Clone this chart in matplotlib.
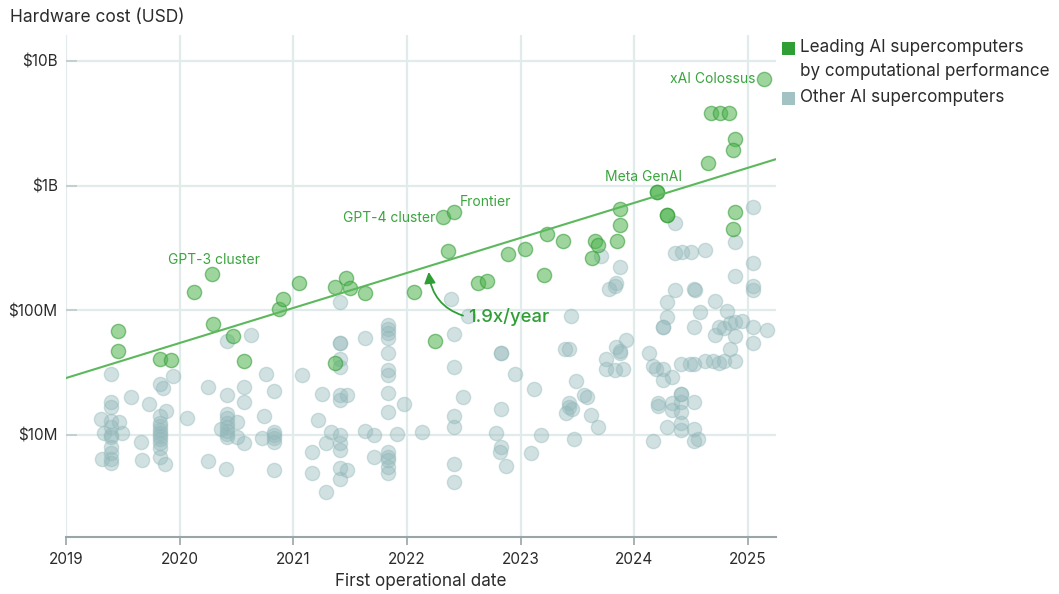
import matplotlib
matplotlib.use("Agg")
import matplotlib.pyplot as plt
from matplotlib.patches import Rectangle
import numpy as np

plt.rcParams['font.family'] = ['Inter', 'DejaVu Sans']

# leading AI supercomputers (first operational date, hardware cost in USD millions)
lead_year = [2019.46, 2019.46, 2019.83, 2019.92, 2020.13, 2020.28, 2020.29, 2020.47, 2020.57, 2020.87,
             2020.91, 2021.05, 2021.37, 2021.46, 2021.50, 2021.63, 2021.37, 2022.06, 2022.25, 2022.32,
             2022.41, 2022.36, 2022.62, 2022.70, 2022.89, 2023.04, 2023.23, 2023.20, 2023.37, 2023.65,
             2023.68, 2023.63, 2023.85, 2023.87, 2023.87, 2024.20, 2024.20, 2024.29, 2024.29, 2024.65,
             2024.67, 2024.75, 2024.83, 2024.88, 2024.87, 2024.88, 2024.87, 2025.14]
lead_cost = [68, 47, 41, 40, 140, 196, 78, 62, 39, 102,
             123, 166, 154, 182, 151, 138, 38, 140, 57, 560,
             614, 299, 166, 172, 283, 310, 409, 192, 360, 360,
             334, 262, 360, 483, 649, 890, 890, 581, 581, 1517,
             3820, 3820, 3820, 2370, 1930, 614, 449, 7160]

# other AI supercomputers
other_year = [2019.31, 2019.32, 2019.33, 2019.40, 2019.40, 2019.40, 2019.40, 2019.40, 2019.40, 2019.40,
              2019.40, 2019.40, 2019.40, 2019.40, 2019.47, 2019.49, 2019.57, 2019.66, 2019.67, 2019.73,
              2019.83, 2019.85, 2019.94, 2019.88, 2019.83, 2019.83, 2019.83, 2019.83, 2019.83, 2019.83,
              2019.83, 2019.83, 2019.83, 2019.83, 2019.87, 2020.06, 2020.25, 2020.25, 2020.42, 2020.42,
              2020.42, 2020.42, 2020.42, 2020.42, 2020.42, 2020.42, 2020.42, 2020.36, 2020.50, 2020.50,
              2020.57, 2020.57, 2020.57, 2020.41, 2020.63, 2020.72, 2020.74, 2020.76, 2020.83, 2020.83,
              2020.83, 2020.83, 2020.83, 2020.83, 2021.08, 2021.16, 2021.16, 2021.22, 2021.25, 2021.29,
              2021.29, 2021.33, 2021.41, 2021.41, 2021.41, 2021.41, 2021.41, 2021.41, 2021.41, 2021.47,
              2021.41, 2021.41, 2021.41, 2021.41, 2021.47, 2021.41, 2021.63, 2021.63, 2021.71, 2021.71,
              2021.83, 2021.83, 2021.83, 2021.83, 2021.83, 2021.83, 2021.83, 2021.83, 2021.83, 2021.83,
              2021.83, 2021.83, 2021.83, 2021.83, 2021.91, 2021.97, 2022.13, 2022.39, 2022.41, 2022.41,
              2022.49, 2022.41, 2022.41, 2022.41, 2022.41, 2022.54, 2022.83, 2022.83, 2022.95, 2022.83,
              2022.78, 2022.83, 2022.82, 2022.87, 2023.12, 2023.18, 2023.09, 2023.44, 2023.39, 2023.42,
              2023.49, 2023.56, 2023.58, 2023.42, 2023.42, 2023.45, 2023.40, 2023.62, 2023.68, 2023.47,
              2023.71, 2023.87, 2023.78, 2023.83, 2023.84, 2023.93, 2023.84, 2023.87, 2023.87, 2023.75,
              2023.75, 2023.83, 2023.90, 2024.13, 2024.16, 2024.19, 2024.25, 2024.16, 2024.21, 2024.21,
              2024.25, 2024.25, 2024.36, 2024.36, 2024.42, 2024.50, 2024.62, 2024.29, 2024.29, 2024.36,
              2024.52, 2024.53, 2024.71, 2024.58, 2024.81, 2024.88, 2024.88, 2025.04, 2025.04, 2025.04,
              2025.04, 2024.52, 2024.71, 2024.74, 2024.79, 2024.84, 2024.88, 2024.95, 2024.88, 2025.04,
              2025.17, 2025.04, 2024.84, 2024.25, 2024.33, 2024.41, 2024.49, 2024.52, 2024.62, 2024.69,
              2024.74, 2024.79, 2024.88, 2024.41, 2024.41, 2024.41, 2024.33, 2024.52, 2024.33, 2024.41,
              2024.41, 2024.41, 2024.29, 2024.52, 2024.52, 2024.56]
other_cost = [13.5, 6.4, 10.4, 30.8, 18.4, 16.8, 12.9, 11.6, 10.0, 9.6,
              8.0, 7.2, 6.4, 6.0, 12.7, 10.4, 20, 8.8, 6.3, 17.6,
              25.6, 23.8, 29.6, 15.6, 14.2, 12.5, 11.8, 11.0, 10.4, 9.8,
              9.2, 8.6, 7.8, 6.7, 5.9, 13.6, 24.3, 6.2, 57, 21,
              14.6, 13.8, 12.5, 11.5, 10.8, 10.2, 9.6, 11.2, 12.7, 9.6,
              24.3, 18.3, 8.6, 5.3, 63, 9.5, 14.2, 30.8, 22.5, 10.6,
              10.0, 9.4, 8.8, 5.2, 30.2, 7.3, 5.0, 13.2, 21.3, 8.6,
              3.5, 10.6, 117, 55, 55, 41, 35, 21, 19, 21,
              10, 8.6, 7.6, 5.4, 5.2, 4.4, 10.8, 60, 10, 6.7,
              76, 71, 66, 60, 45, 33, 30, 21.7, 15.3, 7.3,
              6.7, 6.3, 5.5, 5.0, 10.2, 17.7, 10.6, 123, 64, 35,
              20, 14.2, 11.6, 5.9, 4.2, 90, 45, 45, 31, 16.1,
              10.4, 8.0, 7.3, 5.6, 23.4, 10, 7.2, 90, 49, 49,
              27, 21, 20, 18.1, 16.8, 16.2, 15.0, 14.5, 11.6, 9.3,
              272, 222, 148, 155, 166, 58, 51, 47, 45, 41,
              34, 33, 34, 45, 36, 34, 34, 8.9, 18.1, 17,
              74, 74, 500, 290, 295, 295, 305, 117, 88, 146,
              148, 146, 118, 97, 99, 188, 353, 673, 239, 155,
              146, 74, 63, 74, 72, 79, 81, 82, 62, 74,
              70, 55, 49, 27.5, 29, 37, 37, 37, 39, 39,
              38, 39, 39, 21.3, 21.3, 18.3, 18.1, 18.3, 16, 15.2,
              12.5, 11, 11.6, 11.2, 8.9, 9.3]

# trend fit: 1.9x per year
trend_start_year = 2019
trend_start_cost = 28.6  # USD millions
trend_growth = 1.91

# labelled systems: (name, year, cost in USD millions)
labels = [
    ("GPT-3 cluster", 2020.28, 196),
    ("GPT-4 cluster", 2022.32, 560),
    ("Frontier", 2022.41, 614),
    ("Meta GenAI", 2024.20, 890),
    ("xAI Colossus", 2025.14, 7160),
]
label_style = {
    "GPT-3 cluster": ((2, 14), "center"),
    "GPT-4 cluster": ((-8, -1), "right"),
    "Frontier": ((6, 10), "left"),
    "Meta GenAI": ((-14, 15), "center"),
    "xAI Colossus": ((-9, 0), "right"),
}

GREEN = "#2f9e35"
LABEL_GREEN = "#3aa53f"
GRAY = "#93b8ba"
GRID = "#e1ebeb"
TEXT = "#2b2b2b"

fig = plt.figure(figsize=(10.59, 5.94), dpi=100)
ax = fig.add_axes([66 / 1059, 1 - 537 / 594, 710 / 1059, 502 / 594])

ax.scatter(other_year, np.array(other_cost) * 1e6, s=105, facecolor=GRAY, alpha=0.42,
           edgecolor=GRAY, linewidth=1.0, zorder=3)
ax.scatter(lead_year, np.array(lead_cost) * 1e6, s=105, facecolor="#4db34d", alpha=0.55,
           edgecolor="#2f9a33", linewidth=1.0, zorder=4)

xs = np.array([2019, 2025.25])
ax.plot(xs, trend_start_cost * 1e6 * trend_growth ** (xs - trend_start_year),
        color="#5cb85c", lw=1.5, zorder=5)

for name, yr, cost in labels:
    off, ha = label_style[name]
    ax.annotate(name, (yr, cost * 1e6), xytext=off, textcoords="offset pixels",
                ha=ha, va="center", fontsize=10, color=LABEL_GREEN, zorder=6)

ax.annotate("1.9x/year", xy=(2022.19, 203e6), xytext=(2022.54, 88e6),
            ha="left", va="center", fontsize=13.3, fontweight="medium", color=GREEN,
            arrowprops=dict(arrowstyle="-|>,head_length=0.5,head_width=0.25", color=GREEN, lw=1.3,
                            connectionstyle="arc3,rad=-0.35", relpos=(0, 0.5), shrinkA=2, shrinkB=0),
            zorder=6)

ax.set_yscale("log")
ax.set_xlim(2019, 2025.245)
ax.set_ylim(1.52e6, 16.1e9)
ax.set_yticks([1e7, 1e8, 1e9, 1e10])
ax.set_yticklabels(["$10M", "$100M", "$1B", "$10B"])
ax.yaxis.set_minor_locator(matplotlib.ticker.NullLocator())
ax.set_xticks(range(2019, 2026))
ax.grid(True, color=GRID, lw=1.6, zorder=0)
ax.set_axisbelow(True)

for side in ["left", "right", "top"]:
    ax.spines[side].set_visible(False)
ax.spines["bottom"].set_color("#9aa5a8")
ax.spines["bottom"].set_linewidth(1.5)
ax.tick_params(axis="x", colors="#9aa5a8", length=6, width=1.2, labelcolor=TEXT, labelsize=11, pad=5)
ax.tick_params(axis="y", colors="#c3cfd1", direction="in", length=8, width=1.4,
               labelcolor=TEXT, labelsize=11, pad=6)
ax.set_xlabel("First operational date", fontsize=12.3, color=TEXT, labelpad=4)

fig.text(10 / 1059, 1 - 17 / 594, "Hardware cost (USD)", fontsize=12.5, color=TEXT, va="center", ha="left")

# legend
fig.patches.append(Rectangle((782 / 1059, 1 - 55 / 594), 13 / 1059, 13 / 594,
                             transform=fig.transFigure, facecolor="#2e9e35", edgecolor="none"))
fig.patches.append(Rectangle((782 / 1059, 1 - 105 / 594), 13 / 1059, 13 / 594,
                             transform=fig.transFigure, facecolor="#a2c2c4", edgecolor="none"))
fig.text(800 / 1059, 1 - 48 / 594, "Leading AI supercomputers", fontsize=12.3, color=TEXT, va="center")
fig.text(800 / 1059, 1 - 71 / 594, "by computational performance", fontsize=12.3, color=TEXT, va="center")
fig.text(800 / 1059, 1 - 98 / 594, "Other AI supercomputers", fontsize=12.3, color=TEXT, va="center")

fig.savefig("out.png", dpi=100)
